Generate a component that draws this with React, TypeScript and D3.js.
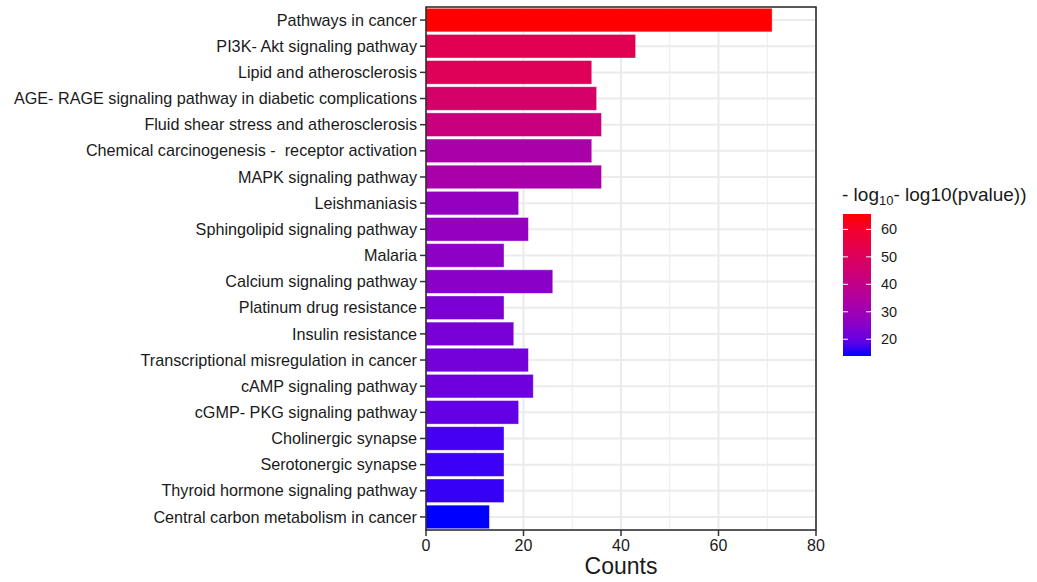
import React from "react";
import * as d3 from "d3";

const pathways = [
  "Pathways in cancer",
  "PI3K- Akt signaling pathway",
  "Lipid and atherosclerosis",
  "AGE- RAGE signaling pathway in diabetic complications",
  "Fluid shear stress and atherosclerosis",
  "Chemical carcinogenesis -  receptor activation",
  "MAPK signaling pathway",
  "Leishmaniasis",
  "Sphingolipid signaling pathway",
  "Malaria",
  "Calcium signaling pathway",
  "Platinum drug resistance",
  "Insulin resistance",
  "Transcriptional misregulation in cancer",
  "cAMP signaling pathway",
  "cGMP- PKG signaling pathway",
  "Cholinergic synapse",
  "Serotonergic synapse",
  "Thyroid hormone signaling pathway",
  "Central carbon metabolism in cancer",
];
const counts = [71, 43, 34, 35, 36, 34, 36, 19, 21, 16, 26, 16, 18, 21, 22, 19, 16, 16, 16, 13];
const logP = [65.6, 52, 51, 47, 42, 32.5, 32.5, 27.5, 27.5, 26, 25.5, 23, 22.5, 21.5, 21, 19.5, 16.5, 16, 15.5, 13.9];
const xTicks = [0, 20, 40, 60, 80];
const xMinor = [10, 30, 50, 70];
const legendTicks = [20, 30, 40, 50, 60];

const font = "'Liberation Sans', Arial, sans-serif";
const ink = "#1a1a1a";

const App = () => {
  const width = 1037;
  const height = 582;
  const panel = { left: 426, right: 816, top: 7, bottom: 530 };

  const xScale = d3.scaleLinear().domain([0, 80]).range([panel.left, panel.right]);
  const yScale = d3
    .scaleBand()
    .domain(pathways)
    .range([panel.top, panel.bottom])
    .paddingInner(0.1)
    .paddingOuter(0.05);

  const pExtent = d3.extent(logP) as [number, number];
  const colorScale = d3
    .scaleLinear<string>()
    .domain(pExtent)
    .range(["#0000ff", "#ff0000"])
    .interpolate(d3.interpolateLab);

  const legend = { x: 843, y: 214, w: 28, h: 142 };
  const legendScale = d3
    .scaleLinear()
    .domain(pExtent)
    .range([legend.y + legend.h, legend.y]);
  const stops = d3.range(0, 1.0001, 0.1);

  return (
    <svg
      width={width}
      height={height}
      style={{ position: "absolute", left: 0, top: 0, display: "block", background: "#fff" }}
    >
      <defs>
        <linearGradient id="pgrad" x1="0" y1="1" x2="0" y2="0">
          {stops.map((t) => (
            <stop
              key={t}
              offset={t}
              stopColor={colorScale(pExtent[0] + t * (pExtent[1] - pExtent[0]))}
            />
          ))}
        </linearGradient>
      </defs>

      {/* grid */}
      {xMinor.map((t) => (
        <line
          key={"mn" + t}
          x1={xScale(t)}
          x2={xScale(t)}
          y1={panel.top}
          y2={panel.bottom}
          stroke="#ebebeb"
          strokeWidth={1}
        />
      ))}
      {xTicks.map((t) => (
        <line
          key={"mj" + t}
          x1={xScale(t)}
          x2={xScale(t)}
          y1={panel.top}
          y2={panel.bottom}
          stroke="#ebebeb"
          strokeWidth={2}
        />
      ))}
      {pathways.map((p) => {
        const cy = yScale(p)! + yScale.bandwidth() / 2;
        return (
          <line
            key={"hg" + p}
            x1={panel.left}
            x2={panel.right}
            y1={cy}
            y2={cy}
            stroke="#ebebeb"
            strokeWidth={2}
          />
        );
      })}

      {/* bars */}
      {pathways.map((p, i) => (
        <rect
          key={p}
          x={xScale(0)}
          y={yScale(p)}
          width={xScale(counts[i]) - xScale(0)}
          height={yScale.bandwidth()}
          fill={colorScale(logP[i])}
          stroke="#fff"
          strokeOpacity={0.45}
          strokeWidth={0.8}
        />
      ))}

      <rect
        x={panel.left}
        y={panel.top}
        width={panel.right - panel.left}
        height={panel.bottom - panel.top}
        fill="none"
        stroke="#222"
        strokeWidth={1.5}
      />

      {/* y axis */}
      {pathways.map((p) => {
        const cy = yScale(p)! + yScale.bandwidth() / 2;
        return (
          <g key={"yl" + p}>
            <line x1={panel.left - 6} x2={panel.left} y1={cy} y2={cy} stroke="#333" strokeWidth={1.5} />
            <text
              x={panel.left - 9}
              y={cy}
              dy="0.35em"
              textAnchor="end"
              fontFamily={font}
              fontSize={16.2}
              fill={ink}
              style={{ whiteSpace: "pre" }}
            >
              {p}
            </text>
          </g>
        );
      })}

      {/* x axis */}
      {xTicks.map((t) => (
        <g key={"xt" + t}>
          <line x1={xScale(t)} x2={xScale(t)} y1={panel.bottom} y2={panel.bottom + 6} stroke="#333" strokeWidth={1.5} />
          <text
            x={xScale(t)}
            y={panel.bottom + 21}
            textAnchor="middle"
            fontFamily={font}
            fontSize={16}
            fill={ink}
          >
            {t}
          </text>
        </g>
      ))}
      <text
        x={(panel.left + panel.right) / 2}
        y={574}
        textAnchor="middle"
        fontFamily={font}
        fontSize={23}
        fill={ink}
      >
        Counts
      </text>

      {/* legend */}
      <text x={842} y={201} fontFamily={font} fontSize={19} fill={ink}>
        - log
        <tspan fontSize={13} dy={4}>10</tspan>
        <tspan dy={-4}>- log10(pvalue))</tspan>
      </text>
      <rect x={legend.x} y={legend.y} width={legend.w} height={legend.h} fill="url(#pgrad)" />
      {legendTicks.map((t) => (
        <g key={"lt" + t}>
          <line
            x1={legend.x}
            x2={legend.x + 5}
            y1={legendScale(t)}
            y2={legendScale(t)}
            stroke="#fff"
            strokeWidth={1}
          />
          <line
            x1={legend.x + legend.w - 5}
            x2={legend.x + legend.w}
            y1={legendScale(t)}
            y2={legendScale(t)}
            stroke="#fff"
            strokeWidth={1}
          />
          <text
            x={legend.x + legend.w + 10}
            y={legendScale(t)}
            dy="0.35em"
            fontFamily={font}
            fontSize={14.5}
            fill={ink}
          >
            {t}
          </text>
        </g>
      ))}
    </svg>
  );
};

export default App;
